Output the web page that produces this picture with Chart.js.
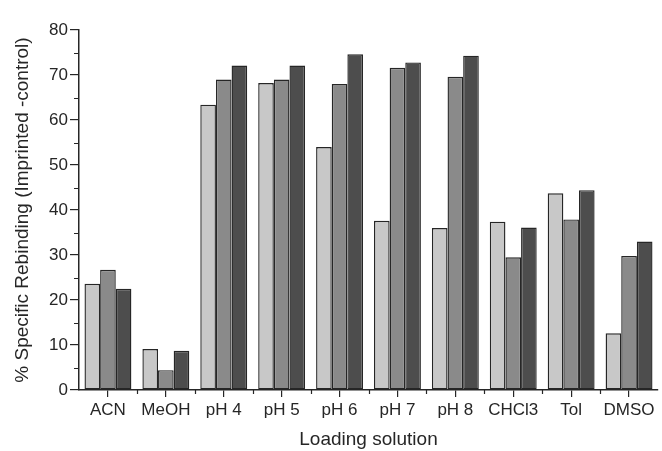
<!DOCTYPE html>
<html>
<head>
<meta charset="utf-8">
<script src="https://cdn.jsdelivr.net/npm/chart.js@4.4.1/dist/chart.umd.min.js"></script>
<style>
  html, body { margin: 0; padding: 0; background: #fff; }
  #wrap { width: 662px; height: 451px; position: relative; }
</style>
</head>
<body>
<div id="wrap"><canvas id="chart"></canvas></div>
<script>
const categories = ['ACN', 'MeOH', 'pH 4', 'pH 5', 'pH 6', 'pH 7', 'pH 8', 'CHCl3', 'Tol', 'DMSO'];
const seriesA = [23.6, 9.1, 63.4, 68.2, 54.0, 37.6, 36.0, 37.4, 43.7, 12.6];
const seriesB = [26.7, 4.4, 69.0, 69.0, 68.0, 71.6, 69.6, 29.5, 37.9, 29.8];
const seriesC = [22.5, 8.7, 72.1, 72.1, 74.6, 72.8, 74.3, 36.1, 44.4, 33.0];
const yTicks = [0, 10, 20, 30, 40, 50, 60, 70, 80];
const yMinor = [5, 15, 25, 35, 45, 55, 65, 75];

const axisColor = '#262626';
const fontFamily = '"Liberation Sans", Arial, sans-serif';

// minor tick marks, outward, like the original plot
const minorTicks = {
  id: 'minorTicks',
  afterDraw(chart) {
    const ctx = chart.ctx;
    const x = chart.scales.x;
    const y = chart.scales.y;
    ctx.save();
    ctx.strokeStyle = axisColor;
    ctx.lineWidth = 1.2;
    ctx.beginPath();
    yMinor.forEach(v => {
      const py = Math.round(y.getPixelForValue(v)) + 0.5;
      ctx.moveTo(x.left - 5, py);
      ctx.lineTo(x.left, py);
    });
    for (let i = 1; i < categories.length; i++) {
      const px = Math.round((x.getPixelForValue(i - 1) + x.getPixelForValue(i)) / 2) + 0.5;
      ctx.moveTo(px, y.bottom);
      ctx.lineTo(px, y.bottom + 4);
    }
    ctx.stroke();
    ctx.restore();
  }
};

const barStyle = { borderColor: '#262626', borderWidth: 1.4, borderSkipped: false };

new Chart(document.getElementById('chart'), {
  type: 'bar',
  data: {
    labels: categories,
    datasets: [
      { data: seriesA, backgroundColor: '#c8c8c8', ...barStyle },
      { data: seriesB, backgroundColor: '#8a8a8a', ...barStyle },
      { data: seriesC, backgroundColor: '#4d4d4d', ...barStyle }
    ]
  },
  options: {
    responsive: true,
    maintainAspectRatio: false,
    animation: false,
    categoryPercentage: 0.81,
    barPercentage: 1.0,
    layout: { padding: { left: 6, right: 4, top: 30, bottom: 0 } },
    plugins: {
      legend: { display: false },
      tooltip: { enabled: false }
    },
    scales: {
      x: {
        grid: {
          offset: false,
          drawOnChartArea: false,
          drawTicks: true,
          tickLength: 7,
          color: axisColor,
          lineWidth: 1.2
        },
        border: { display: true, color: axisColor, width: 1.5 },
        ticks: {
          color: axisColor,
          font: { family: fontFamily, size: 17 },
          padding: 3,
          maxRotation: 0,
          autoSkip: false
        },
        title: {
          display: true,
          text: 'Loading solution',
          color: axisColor,
          font: { family: fontFamily, size: 19 },
          padding: { top: 2, bottom: 0 }
        },
        afterFit: scale => { scale.height = 61; }
      },
      y: {
        min: 0,
        max: 80,
        afterBuildTicks: scale => { scale.ticks = yTicks.map(v => ({ value: v })); },
        grid: {
          drawOnChartArea: false,
          drawTicks: true,
          tickLength: 9,
          color: axisColor,
          lineWidth: 1.2
        },
        border: { display: true, color: axisColor, width: 1.5 },
        ticks: {
          color: axisColor,
          font: { family: fontFamily, size: 17 },
          padding: 2
        },
        title: {
          display: true,
          text: '% Specific Rebinding (Imprinted -control)',
          color: axisColor,
          font: { family: fontFamily, size: 19 },
          padding: { top: 5, bottom: 0 }
        },
        afterFit: scale => { scale.width = 73; }
      }
    }
  },
  plugins: [minorTicks]
});
</script>
</body>
</html>
